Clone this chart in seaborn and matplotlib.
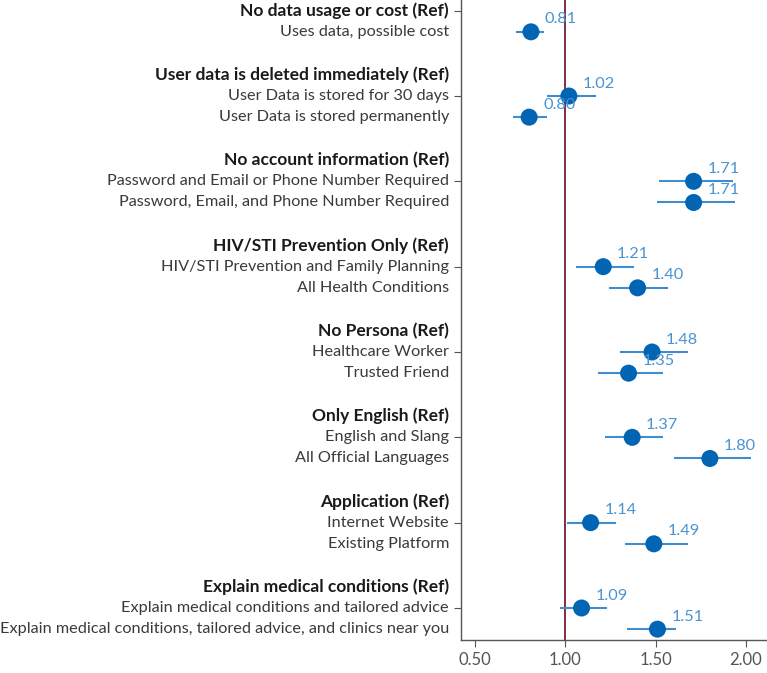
import numpy as np
import pandas as pd
import matplotlib
matplotlib.use("Agg")
import matplotlib.pyplot as plt
import matplotlib.transforms as mtransforms
import seaborn as sns

# ---------------- data ----------------
groups = [
    "No data usage or cost (Ref)",
    "User data is deleted immediately (Ref)",
    "No account information (Ref)",
    "HIV/STI Prevention Only (Ref)",
    "No Persona (Ref)",
    "Only English (Ref)",
    "Application (Ref)",
    "Explain medical conditions (Ref)",
]
levels = [
    ["Uses data, possible cost"],
    ["User Data is stored for 30 days", "User Data is stored permanently"],
    ["Password and Email or Phone Number Required", "Password, Email, and Phone Number Required"],
    ["HIV/STI Prevention and Family Planning", "All Health Conditions"],
    ["Healthcare Worker", "Trusted Friend"],
    ["English and Slang", "All Official Languages"],
    ["Internet Website", "Existing Platform"],
    ["Explain medical conditions and tailored advice",
     "Explain medical conditions, tailored advice, and clinics near you"],
]
estimates = [
    [0.81],
    [1.02, 0.80],
    [1.71, 1.71],
    [1.21, 1.40],
    [1.48, 1.35],
    [1.37, 1.80],
    [1.14, 1.49],
    [1.09, 1.51],
]
ci_low = [
    [0.73],
    [0.90, 0.71],
    [1.52, 1.51],
    [1.06, 1.24],
    [1.30, 1.18],
    [1.22, 1.60],
    [1.01, 1.33],
    [0.97, 1.34],
]
ci_high = [
    [0.88],
    [1.17, 0.90],
    [1.93, 1.94],
    [1.38, 1.57],
    [1.68, 1.54],
    [1.54, 2.03],
    [1.28, 1.68],
    [1.23, 1.61],
]
x_ticks = [0.5, 1.0, 1.5, 2.0]
x_ticklabels = ["0.50", "1.00", "1.50", "2.00"]

# ---------------- layout of rows ----------------
step = 0.248
rows = []
headers_y = []
for g, (grp, lv) in enumerate(zip(groups, levels)):
    if len(lv) == 1:
        headers_y.append(g)
        offs = [step]
    else:
        headers_y.append(g - step)
        offs = [0, step]
    for k, name in enumerate(lv):
        rows.append(dict(label=name, y=g + offs[k], est=estimates[g][k],
                         lo=ci_low[g][k], hi=ci_high[g][k]))
df = pd.DataFrame(rows)

sns.set_style("white")
plt.rcParams["font.family"] = ["Lato", "DejaVu Sans"]

fig = plt.figure(figsize=(7.67, 6.73), dpi=100)
ax = fig.add_axes([461 / 767, 33 / 673, 1 - 461 / 767, 640 / 673])

point_col = "#0265b4"
line_col = "#3f8ccf"
lab_col = "#4a94d4"

ax.axvline(1.0, color="#7a1b2d", lw=1.3, zorder=1)
ax.hlines(df["y"], df["lo"], df["hi"], color=line_col, lw=1.5, zorder=2)
sns.scatterplot(data=df, x="est", y="y", ax=ax, color=point_col, s=150,
                edgecolor="none", zorder=3, legend=False)

for _, r in df.iterrows():
    ax.annotate(f"{r['est']:.2f}", (r["est"], r["y"]), xytext=(10, 9),
                textcoords="offset points", ha="left", va="center",
                color=lab_col, fontsize=11.8)

trans = mtransforms.blended_transform_factory(ax.transAxes, ax.transData)
xt = -12 / 306
for g, grp in enumerate(groups):
    ax.text(xt, headers_y[g], grp, transform=trans, ha="right", va="center",
            fontsize=12.5, fontweight="bold", color="#1a1a1a")
for _, r in df.iterrows():
    ax.text(xt, r["y"], r["label"], transform=trans, ha="right", va="center",
            fontsize=11.7, color="#3a3a3a")

ax.set_xlim(0.423, 2.116)
ax.set_ylim(7.375, -0.125)
ax.set_xticks(x_ticks)
ax.set_xticklabels(x_ticklabels)
ax.set_yticks(range(len(groups)))
ax.set_yticklabels([])
ax.set_xlabel("")
ax.set_ylabel("")
for s in ["top", "right"]:
    ax.spines[s].set_visible(False)
for s in ["left", "bottom"]:
    ax.spines[s].set_color("#555555")
    ax.spines[s].set_linewidth(1.0)
ax.tick_params(axis="both", which="both", length=5, color="#555555",
               labelcolor="#555555", labelsize=12, direction="out",
               left=True, bottom=True)

fig.savefig("out.png", dpi=100)
